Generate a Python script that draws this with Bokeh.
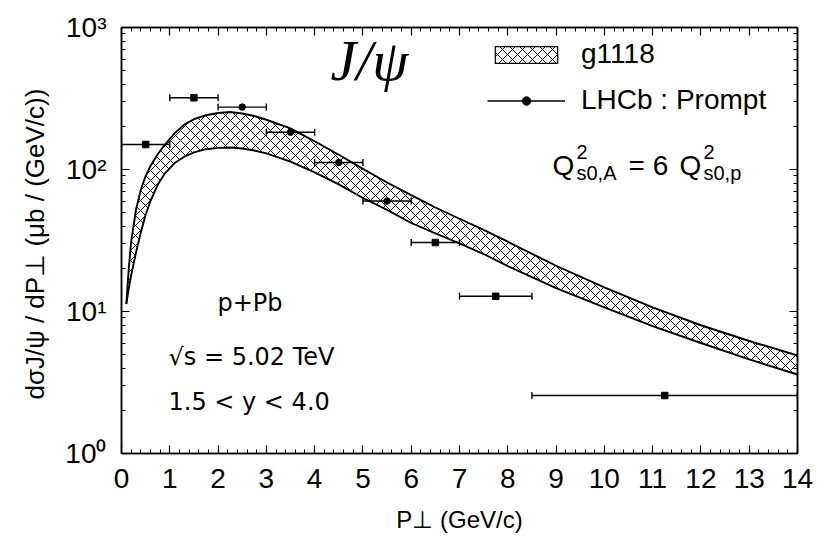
import numpy as np
from bokeh.plotting import figure
from bokeh.models import (Range1d, LinearAxis, LogAxis, SingleIntervalTicker, FixedTicker,
                          Label, Legend, LegendItem, ColumnDataSource, Whisker, TeeHead,
                          CustomJSTickFormatter)
from bokeh.embed import file_html
from bokeh.resources import INLINE

# ---------------- data ----------------
# theory band (g1118), upper and lower edges
band_pt = [0.1, 0.15, 0.2, 0.3, 0.4, 0.5, 0.6, 0.75, 0.9, 1.1, 1.3, 1.5, 1.75, 2.0, 2.25,
           2.5, 2.75, 3.0, 3.5, 4.0, 4.5, 5.0, 5.5, 6.0, 6.5, 7.0, 7.5, 8.0, 9.0, 10.0,
           11.0, 12.0, 13.0, 14.0]
band_upper = [11.3, 20, 31, 52, 72, 90, 106, 128, 150, 180, 207, 226, 241, 250, 254,
              248, 238, 224, 195, 158, 127, 101, 81, 66, 54, 45, 37.6, 31, 21, 14.8,
              10.7, 8.0, 6.2, 4.9]
band_lower = [11.3, 14.5, 18, 26, 36, 48, 60, 78, 94, 111, 123, 132, 139, 142, 143,
              140.6, 136, 130, 113.5, 95.5, 78.5, 63, 52, 42, 35.5, 30.2, 25.4, 20.9, 14.6, 10.7,
              7.9, 6.0, 4.6, 3.6]

# LHCb prompt J/psi data
lhcb_pt = [0.5, 1.5, 2.5, 3.5, 4.5, 5.5, 6.5, 7.75, 11.25]
lhcb_pt_lo = [0, 1, 2, 3, 4, 5, 6, 7, 8.5]
lhcb_pt_hi = [1, 2, 3, 4, 5, 6, 7, 8.5, 14]
lhcb_val = [150, 320, 275, 183, 112, 60, 30.6, 12.8, 2.56]

x_ticks = list(range(0, 15))
y_ticks = [1, 10, 100, 1000]
y_tick_labels = ["10⁰", "10¹", "10²", "10³"]

# marker style per point (style, not data)
lhcb_marker = ["square", "square", "circle", "circle", "circle", "circle",
               "square", "square", "square"]

# ---------------- figure ----------------
SANS = "Liberation Sans"
WIDE = "DejaVu Sans"

p = figure(width=819, height=543, x_range=Range1d(0, 14), y_range=Range1d(1, 1000),
           y_axis_type="log", output_backend="svg", toolbar_location=None,
           min_border_left=121, min_border_right=22, min_border_top=27, min_border_bottom=90)
p.grid.visible = False
p.outline_line_color = "black"
p.outline_line_width = 1.5
p.background_fill_color = "white"
p.border_fill_color = "white"

minor_y = [m * 10 ** e for e in range(0, 3) for m in range(2, 10)]
xt = SingleIntervalTicker(interval=1, num_minor_ticks=5)
yt = FixedTicker(ticks=y_ticks, minor_ticks=minor_y)

p.add_layout(LinearAxis(), "above")
p.add_layout(LogAxis(), "right")


def style_axis(ax, ticker, show_labels):
    ax.ticker = ticker
    ax.major_tick_in = 8
    ax.major_tick_out = 0
    ax.minor_tick_in = 4
    ax.minor_tick_out = 0
    ax.major_tick_line_color = "black"
    ax.minor_tick_line_color = "black"
    ax.major_tick_line_width = 1.2
    ax.minor_tick_line_width = 1
    ax.axis_line_color = "black"
    ax.axis_line_width = 1.5
    ax.major_label_text_font = SANS
    ax.major_label_text_font_size = "28px"
    ax.major_label_text_color = "black"
    ax.axis_label_text_font = SANS
    ax.axis_label_text_font_style = "normal"
    ax.axis_label_text_color = "black"
    if not show_labels:
        ax.formatter = CustomJSTickFormatter(code="return ''")
        ax.major_label_standoff = 0


for ax in p.below:
    style_axis(ax, xt, True)
    ax.major_label_standoff = 15
    ax.axis_label = "P⊥ (GeV/c)"
    ax.axis_label_text_font_size = "24px"
    ax.axis_label_standoff = 15
for ax in p.above:
    style_axis(ax, xt, False)
for ax in p.left:
    style_axis(ax, yt, True)
    ax.major_label_overrides = dict(zip(y_ticks, y_tick_labels))
    ax.major_label_standoff = 15
    ax.axis_label = "dσJ/ψ / dP⊥  (μb / (GeV/c))"
    ax.axis_label_text_font_size = "26px"
    ax.axis_label_standoff = 12
for ax in p.right:
    style_axis(ax, yt, False)

# ---------------- band ----------------
HATCH = dict(hatch_pattern="x", hatch_scale=10, hatch_color="black", hatch_weight=1.0)
p.varea(x=band_pt, y1=band_lower, y2=band_upper, fill_color=None, **HATCH)
p.line(band_pt, band_upper, line_color="black", line_width=1.9)
p.line(band_pt, band_lower, line_color="black", line_width=1.9)

# ---------------- data points ----------------
src = ColumnDataSource(dict(x=lhcb_pt, lo=lhcb_pt_lo, hi=lhcb_pt_hi, y=lhcb_val,
                            marker=lhcb_marker))
p.add_layout(Whisker(source=src, base="y", lower="lo", upper="hi", dimension="width",
                     line_color="black", line_width=1.4,
                     lower_head=TeeHead(size=7, line_color="black", line_width=1.4),
                     upper_head=TeeHead(size=7, line_color="black", line_width=1.4)))
p.scatter("x", "y", source=src, marker="marker", size=6.5, color="black")

# ---------------- legend (proxy glyphs, no visible data) ----------------
nan = [float("nan")]
px_band = p.quad(left=nan, right=nan, top=nan, bottom=nan, fill_color=None,
                 line_color="black", line_width=1.2, **HATCH)
px_err = p.segment(x0=nan, y0=nan, x1=nan, y1=nan, line_color="black", line_width=1.4)
px_dot = p.scatter(x=nan, y=nan, marker="circle", size=7, color="black")
legend = Legend(items=[LegendItem(label="g1118", renderers=[px_band]),
                       LegendItem(label="LHCb : Prompt", renderers=[px_err, px_dot])],
                location=(366, 337), glyph_width=78, glyph_height=21, label_standoff=16,
                spacing=14, padding=0, margin=0, border_line_color=None,
                background_fill_alpha=0, label_text_font=SANS, label_text_font_size="28px",
                label_text_color="black")
p.add_layout(legend)


def lab(x, y, text, size, font=SANS, style="normal"):
    p.add_layout(Label(x=x, y=y, x_units="screen", y_units="screen", text=text,
                       text_font=font, text_font_size=size,
                       text_font_style=style, text_color="black",
                       text_align="left", text_baseline="alphabetic"))


# ---------------- annotations ----------------
lab(209, 393, "J/ψ", "58px", font="Liberation Serif", style="italic")

lab(431, 288, "Q", "28px")
lab(455, 302, "2", "20px")
lab(455, 281, "s0,A", "20px")
lab(507, 288, "= 6", "28px")
lab(558, 288, "Q", "28px")
lab(582, 302, "2", "20px")
lab(582, 281, "s0,p", "20px")

lab(96, 151, "p+Pb", "24px", font=WIDE)
lab(47, 97, "√s = 5.02 TeV", "24px", font=WIDE)
lab(47, 52, "1.5 < y < 4.0", "24px", font=WIDE)

open("out.html", "w").write(file_html(p, INLINE))
